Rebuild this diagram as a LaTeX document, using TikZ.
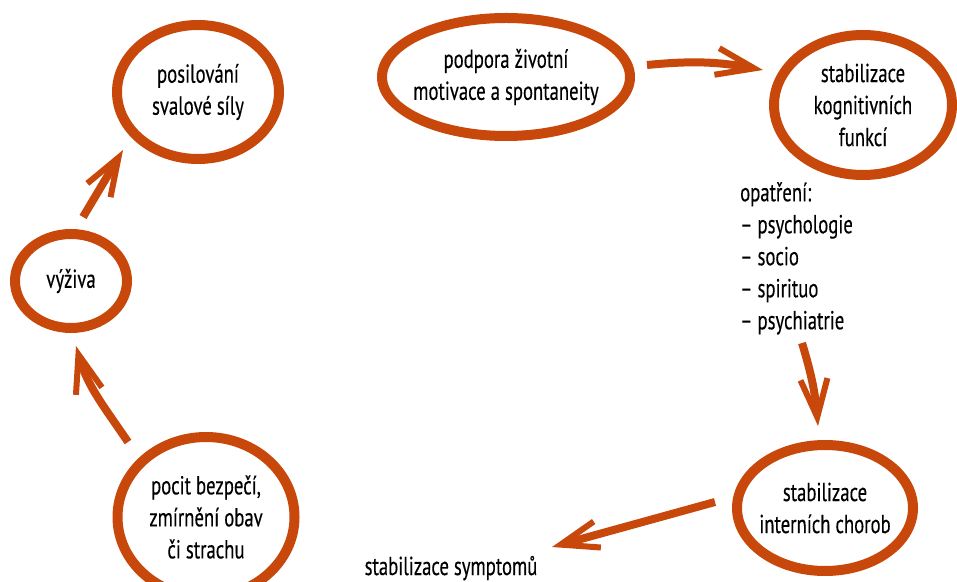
\documentclass[tikz,border=0pt]{standalone}
\usepackage{fontspec}
\setmainfont{PT Sans}[FakeStretch=0.72, FakeBold=0.3]
\usepackage{tikz}
\usetikzlibrary{arrows.meta}
\usetikzlibrary{shapes.geometric}
\usetikzlibrary{positioning}
\definecolor{rust}{RGB}{199,72,10}
\tikzset{ring/.style={ellipse, draw=rust, line width=10pt, align=center, inner sep=-40pt}}

\begin{document}
\begin{tikzpicture}[x=1pt, y=1pt,
      >={Straight Barb[length=38pt, width=27pt, line width=6pt, sharp]},
      on grid,
      font=\fontsize{26}{32}\selectfont,
      flow/.style={->, draw=rust, line width=8pt}]

    \useasboundingbox (0,0) rectangle (957,581);

    \node[ring, minimum width=162pt, minimum height=134pt]
      (Posilovani) at (198,489) {posilování\\svalové síly};
    \node[ring, minimum width=248pt, minimum height=118pt]
      (Podpora) [above right=15pt and 308pt of Posilovani] {podpora životní\\motivace a spontaneity};
    \node[ring, minimum width=178pt, minimum height=140pt]
      (Kognitivni) [below right=28pt and 357pt of Podpora] {stabilizace\\kognitivních\\funkcí};
    \node[ring, minimum width=176pt, minimum height=126pt]
      (Interni) [below left=403pt and 38pt of Kognitivni] {stabilizace\\interních chorob};
    \node[ring, minimum width=177pt, minimum height=160pt]
      (Pocit) [below right=425pt and 8pt of Posilovani] {pocit bezpečí,\\zmírnění obav\\či strachu};
    \node[ring, minimum width=112pt, minimum height=94pt]
      (Vyziva) [below left=189pt and 127pt of Posilovani] {výživa};

    \node[anchor=north west, align=left, inner sep=0pt]
      (Opatreni) at (740,399) {opatření:\\– psychologie\\– socio\\– spirituo\\– psychiatrie};
    \node[anchor=base, inner sep=0pt]
      (Symptomy) at (451,6) {stabilizace symptomů};

    % free ends of the arrows
    \coordinate (VyzivaOut) at (83,364);
    \coordinate (PosilovaniIn) at (123,431);
    \coordinate (PodporaOut) at (647,516);
    \coordinate (KognitivniIn) at (763,511);
    \coordinate (OpatreniOut) at (802,238);
    \coordinate (InterniIn) at (818,155);
    \coordinate (InterniOut) at (715,79);
    \coordinate (SymptomyIn) at (552,34);
    \coordinate (PocitOut) at (128,139);
    \coordinate (VyzivaIn) at (76,235);

    \draw[flow] (VyzivaOut) -- (PosilovaniIn);
    \draw[flow] (PodporaOut) to[bend left=8] (KognitivniIn);
    \draw[flow] (OpatreniOut) to[bend left=6] (InterniIn);
    \draw[flow] (InterniOut) -- (SymptomyIn);
    \draw[flow] (PocitOut) to[out=124, in=-74] (VyzivaIn);

  \end{tikzpicture}
\end{document}
